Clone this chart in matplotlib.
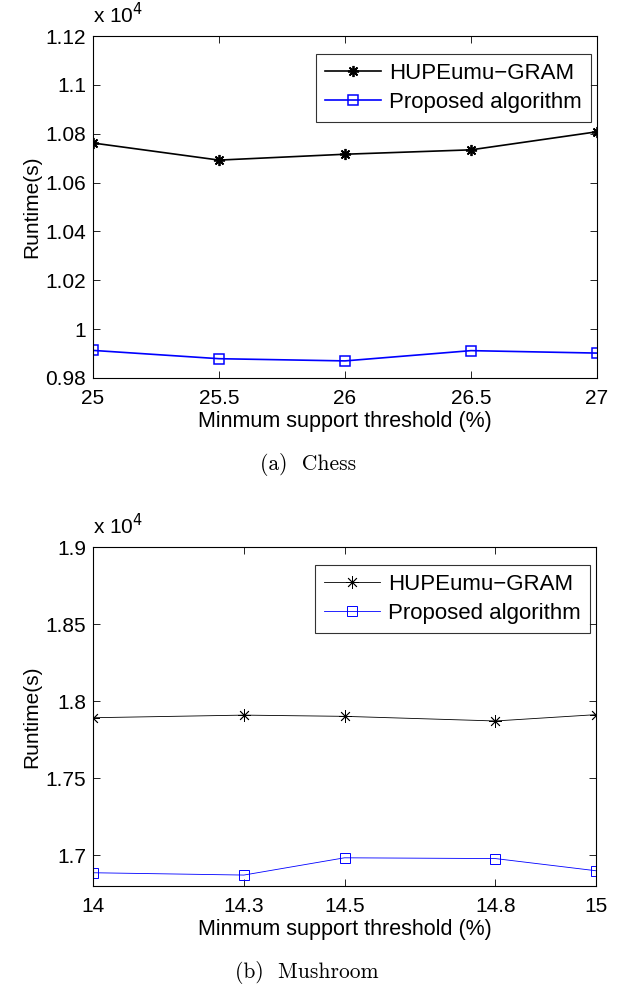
import numpy as np
import matplotlib.pyplot as plt

# chess data (runtime in units of 1e4 s)
chess_x = [25, 25.5, 26, 26.5, 27]
chess_hup = [1.0762, 1.0692, 1.0716, 1.0734, 1.0808]
chess_prop = [0.9913, 0.9879, 0.9870, 0.9912, 0.9902]

# mushroom data
mush_x = [14, 14.3, 14.5, 14.8, 15]
mush_hup = [1.7892, 1.7909, 1.7901, 1.7871, 1.7912]
mush_prop = [1.6886, 1.6871, 1.6983, 1.6978, 1.6899]

chess_yticks = [0.98, 1, 1.02, 1.04, 1.06, 1.08, 1.1, 1.12]
chess_ylabels = ['0.98', '1', '1.02', '1.04', '1.06', '1.08', '1.1', '1.12']
mush_yticks = [1.7, 1.75, 1.8, 1.85, 1.9]
mush_ylabels = ['1.7', '1.75', '1.8', '1.85', '1.9']

plt.rcParams['font.family'] = ['Liberation Sans', 'DejaVu Sans']
FS = 15

fig = plt.figure(figsize=(6.19, 9.85), dpi=100)
W, H = 619.0, 985.0


def setup(ax, xt, yt, ylab, xlim, ylim):
    ax.set_xlim(xlim)
    ax.set_ylim(ylim)
    ax.set_xticks(xt)
    ax.set_xticklabels([('%g' % v) for v in xt])
    ax.set_yticks(yt)
    ax.set_yticklabels(ylab)
    ax.tick_params(direction='in', top=True, right=True, length=5, width=0.6,
                   labelsize=FS)
    ax.tick_params(axis='x', pad=8)
    ax.tick_params(axis='y', pad=5)
    for s in ax.spines.values():
        s.set_linewidth(0.8)
    ax.set_xlabel('Minmum support threshold (%)', fontsize=15.5, labelpad=2)
    ax.set_ylabel('Runtime(s)', fontsize=FS, labelpad=3)
    ax.text(0.0, 1.025, r'x 10$^{4}$', transform=ax.transAxes, fontsize=FS,
            ha='left', va='bottom')


def add_legend(ax, y_anchor):
    leg = ax.legend(loc='upper right', bbox_to_anchor=(0.988, y_anchor),
                    fontsize=16, handlelength=2.55, fancybox=False,
                    edgecolor='black', borderpad=0.4, labelspacing=0.35,
                    handletextpad=0.36, borderaxespad=0)
    leg.get_frame().set_linewidth(0.8)


# top panel
ax1 = fig.add_axes([93 / W, 1 - 378 / H, 504 / W, 342 / H])
ax1.plot(chess_x, chess_hup, color='black', lw=1.2, marker=(8, 2, 0), ms=8,
         mew=1.3, label='HUPEumu\u2212GRAM')
ax1.plot(chess_x, chess_prop, color='blue', lw=1.2, marker='s', ms=7,
         mfc='none', mew=1.1, label='Proposed algorithm')
setup(ax1, chess_x, chess_yticks, chess_ylabels, (25, 27), (0.98, 1.12))
add_legend(ax1, 0.947)
fig.text(0.497, 1 - 465 / H, '(a)  Chess', family='cmr10', fontsize=15.5,
         ha='center', va='center')

# bottom panel
ax2 = fig.add_axes([93 / W, 1 - 886 / H, 503 / W, 339 / H])
ax2.plot(mush_x, mush_hup, color='black', lw=0.6, marker=(8, 2, 0), ms=9,
         mew=0.6, label='HUPEumu\u2212GRAM')
ax2.plot(mush_x, mush_prop, color='blue', lw=0.6, marker='s', ms=7,
         mfc='none', mew=0.7, label='Proposed algorithm')
setup(ax2, mush_x, mush_yticks, mush_ylabels, (14, 15), (1.68, 1.9))
add_legend(ax2, 0.947)
fig.text(0.495, 1 - 973 / H, '(b)  Mushroom', family='cmr10', fontsize=15.5,
         ha='center', va='center')

fig.savefig('out.png', dpi=100)
